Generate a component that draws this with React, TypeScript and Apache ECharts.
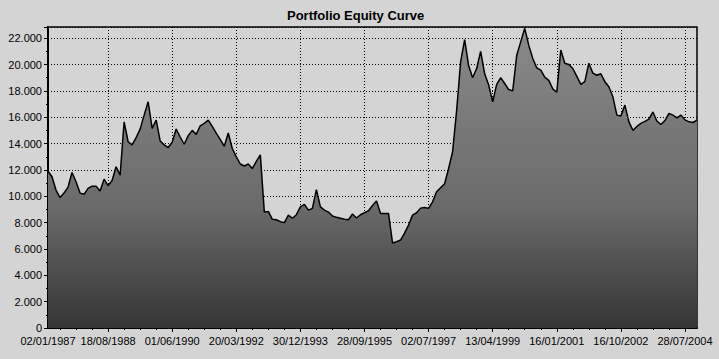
import React, { useEffect, useRef } from "react";
import * as echarts from "echarts";

// Equity values sampled at regular intervals along the date axis
const equity: number[] = [
  11900, 11480, 10470, 9900, 10240, 10700, 11800, 11100, 10240, 10150,
  10600, 10770, 10770, 10400, 11300, 10800, 11200, 12240, 11600, 15650,
  14140, 13900, 14450, 15100, 16160, 17170, 15150, 15780, 14200, 13900,
  13700, 14100, 15100, 14500, 13950, 14600, 15000, 14700, 15350, 15530,
  15780, 15300, 14800, 14300, 13800, 14800, 13630, 13000, 12450, 12300,
  12450, 12100, 12650, 13150, 8800, 8850, 8250, 8220, 8070, 8000,
  8570, 8330, 8600, 9200, 9380, 8950, 9080, 10500, 9200, 8950,
  8800, 8500, 8400, 8330, 8250, 8220, 8650, 8350, 8600, 8750,
  8900, 9300, 9650, 8700, 8700, 8700, 6450, 6550, 6680, 7200,
  7810, 8570, 8750, 9100, 9150, 9080, 9580, 10350, 10650, 10950,
  12110, 13400, 16500, 20200, 21900, 19900, 19000, 19700, 21000, 19300,
  18440, 17170, 18500, 19000, 18560, 18100, 18000, 20700, 21720, 22750,
  21470, 20460, 19750, 19570, 19050, 18800, 18150, 17900, 21100, 20100,
  20000, 19700, 19100, 18500, 18700, 20100, 19350, 19190, 19300, 18700,
  18310, 17550, 16160, 16100, 16920, 15650, 15000, 15300, 15530, 15680,
  15850, 16400, 15700, 15450, 15750, 16290, 16160, 15950, 16160, 15800,
  15650, 15600, 15780,
];

const labelIndices: number[] = [0, 15, 31, 47, 63, 79, 95, 111, 127, 143, 159];
const dateLabels: string[] = [
  "02/01/1987", "18/08/1988", "01/06/1990", "20/03/1992", "30/12/1993",
  "28/09/1995", "02/07/1997", "13/04/1999", "16/01/2001", "16/10/2002",
  "28/07/2004",
];
const majorTicks: number[] = [15, 31, 47, 63, 79, 95, 111, 127, 143, 159];
const minorTicks: number[] = [
  3, 7, 11, 19, 23, 27, 35, 39, 43, 51, 55, 59, 67, 71, 75, 83, 87, 91,
  99, 103, 107, 115, 119, 123, 131, 135, 139, 147, 151, 155,
];

const fmtThousands = (v: number) => {
  if (v < 1000) return String(v);
  const k = Math.floor(v / 1000);
  const r = String(Math.round(v % 1000)).padStart(3, "0");
  return k + "." + r;
};

export default function App() {
  const ref = useRef<HTMLDivElement>(null);
  useEffect(() => {
    if (!ref.current) return;
    const chart = echarts.init(ref.current, undefined, { renderer: "svg" });
    const font = "Liberation Sans";
    const lastIdx = equity.length - 1;
    chart.setOption({
      animation: false,
      backgroundColor: "#d4d4d4",
      textStyle: { fontFamily: font },
      title: {
        text: "Portfolio Equity Curve",
        left: 282,
        top: 4,
        textStyle: { fontFamily: font, fontSize: 13, fontWeight: "bold", color: "#000" },
      },
      grid: {
        left: 48,
        right: 22,
        top: 27,
        bottom: 31,
        show: true,
        borderColor: "#000",
        borderWidth: 1.5,
        backgroundColor: "#d4d4d4",
      },
      xAxis: [
        {
          type: "value",
          min: 0,
          max: lastIdx,
          axisLine: { show: true, onZero: false, lineStyle: { color: "#000", width: 2 } },
          axisTick: { show: true, length: 4, customValues: majorTicks, lineStyle: { color: "#000" } },
          axisLabel: {
            customValues: labelIndices,
            color: "#000",
            fontSize: 11,
            margin: 7,
            formatter: (v: number) => {
              const k = labelIndices.indexOf(Math.round(v));
              return k >= 0 ? dateLabels[k] : "";
            },
          },
          splitLine: { show: true, lineStyle: { color: "#000", type: [1, 2], width: 1 } },
        },
        {
          type: "value",
          min: 0,
          max: lastIdx,
          position: "bottom",
          axisLine: { show: false },
          axisTick: { show: true, length: 2, customValues: minorTicks, lineStyle: { color: "#000" } },
          axisLabel: { show: false },
          splitLine: { show: false },
        },
      ],
      yAxis: {
        type: "value",
        min: 0,
        max: 22850,
        interval: 2000,
        axisLine: { show: true, lineStyle: { color: "#000", width: 2 } },
        axisTick: { show: true, length: 4, lineStyle: { color: "#000" } },
        minorTick: { show: true, splitNumber: 2, length: 2, lineStyle: { color: "#000" } },
        axisLabel: {
          color: "#000",
          fontSize: 11,
          margin: 6,
          showMaxLabel: false,
          formatter: (v: number) => fmtThousands(v),
        },
        splitLine: { show: true, lineStyle: { color: "#000", type: [1, 2], width: 1 } },
      },
      series: [
        {
          type: "line",
          xAxisIndex: 0,
          data: equity.map((v, i) => [i, v]),
          symbol: "none",
          lineStyle: { color: "#000", width: 1.5 },
          areaStyle: {
            opacity: 1,
            color: new echarts.graphic.LinearGradient(0, 0, 0, 1, [
              { offset: 0, color: "#8a8a8a" },
              { offset: 0.6, color: "#6a6a6a" },
              { offset: 1, color: "#353535" },
            ]),
          },
        },
      ],
    });
    return () => chart.dispose();
  }, []);
  return (
    <div
      ref={ref}
      style={{ position: "fixed", left: 0, top: 0, width: 719, height: 359 }}
    />
  );
}
